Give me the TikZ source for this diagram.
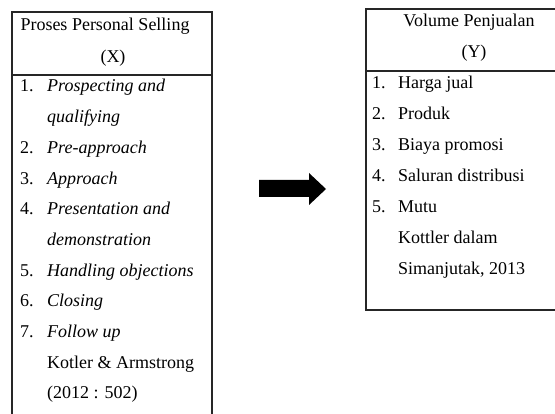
\documentclass[tikz,border=0pt]{standalone}
\usepackage{fontspec}
\setmainfont{Liberation Serif}
\begin{document}
\begin{tikzpicture}[x=1pt,y=-1pt,
  txt/.style={inner sep=0pt,anchor=base west,font=\fontsize{18}{20}\selectfont},
  ctr/.style={inner sep=0pt,anchor=base,font=\fontsize{18}{20}\selectfont},
  boxline/.style={draw=black!85,line width=1.2pt}]
\useasboundingbox (0,0) rectangle (555,414);
% left box
\draw[boxline] (12,414) -- (12,12) -- (212,12) -- (212,414);
\draw[boxline] (12,75) -- (212,75);
% right box
\draw[boxline] (555,9) -- (366,9) -- (366,310) -- (555,310);
\draw[boxline] (366,71) -- (555,71);
% arrow
\fill[black] (259,180) -- (309,180) -- (309,173) -- (326,189) -- (309,205) -- (309,197) -- (259,197) -- cycle;
% left texts
\node[ctr] (lh1) at (105,31) {Proses Personal Selling};
\node[ctr] (lh2) at (113,63) {(X)};
\node[txt] (ln1) at (20,92) {1.};
\node[txt] (lt1) at (47,92) {\itshape Prospecting and};
\node[txt] (lt1b) at (47,122.7) {\itshape qualifying};
\node[txt] (ln2) at (20,153.4) {2.};
\node[txt] (lt2) at (47,153.4) {\itshape Pre-approach};
\node[txt] (ln3) at (20,184.1) {3.};
\node[txt] (lt3) at (47,184.1) {\itshape Approach};
\node[txt] (ln4) at (20,214.8) {4.};
\node[txt] (lt4) at (47,214.8) {\itshape Presentation and};
\node[txt] (lt4b) at (47,245.5) {\itshape demonstration};
\node[txt] (ln5) at (20,276.2) {5.};
\node[txt] (lt5) at (47,276.2) {\itshape Handling objections};
\node[txt] (ln6) at (20,306.9) {6.};
\node[txt] (lt6) at (47,306.9) {\itshape Closing};
\node[txt] (ln7) at (20,337.6) {7.};
\node[txt] (lt7) at (47,337.6) {\itshape Follow up};
\node[txt] (lr1) at (47,368.3) {Kotler \& Armstrong};
\node[txt] (lr2) at (47,399) {(2012 : 502)};
% right texts
\node[ctr] (rh1) at (469,27) {Volume Penjualan};
\node[ctr] (rh2) at (474,58) {(Y)};
\node[txt] (rn1) at (372,89) {1.};
\node[txt] (rt1) at (398,89) {Harga jual};
\node[txt] (rn2) at (372,120) {2.};
\node[txt] (rt2) at (398,120) {Produk};
\node[txt] (rn3) at (372,151) {3.};
\node[txt] (rt3) at (398,151) {Biaya promosi};
\node[txt] (rn4) at (372,182) {4.};
\node[txt] (rt4) at (398,182) {Saluran distribusi};
\node[txt] (rn5) at (372,213) {5.};
\node[txt] (rt5) at (398,213) {Mutu};
\node[txt] (rr1) at (398,244) {Kottler dalam};
\node[txt] (rr2) at (398,275) {Simanjutak, 2013};
\end{tikzpicture}
\end{document}
